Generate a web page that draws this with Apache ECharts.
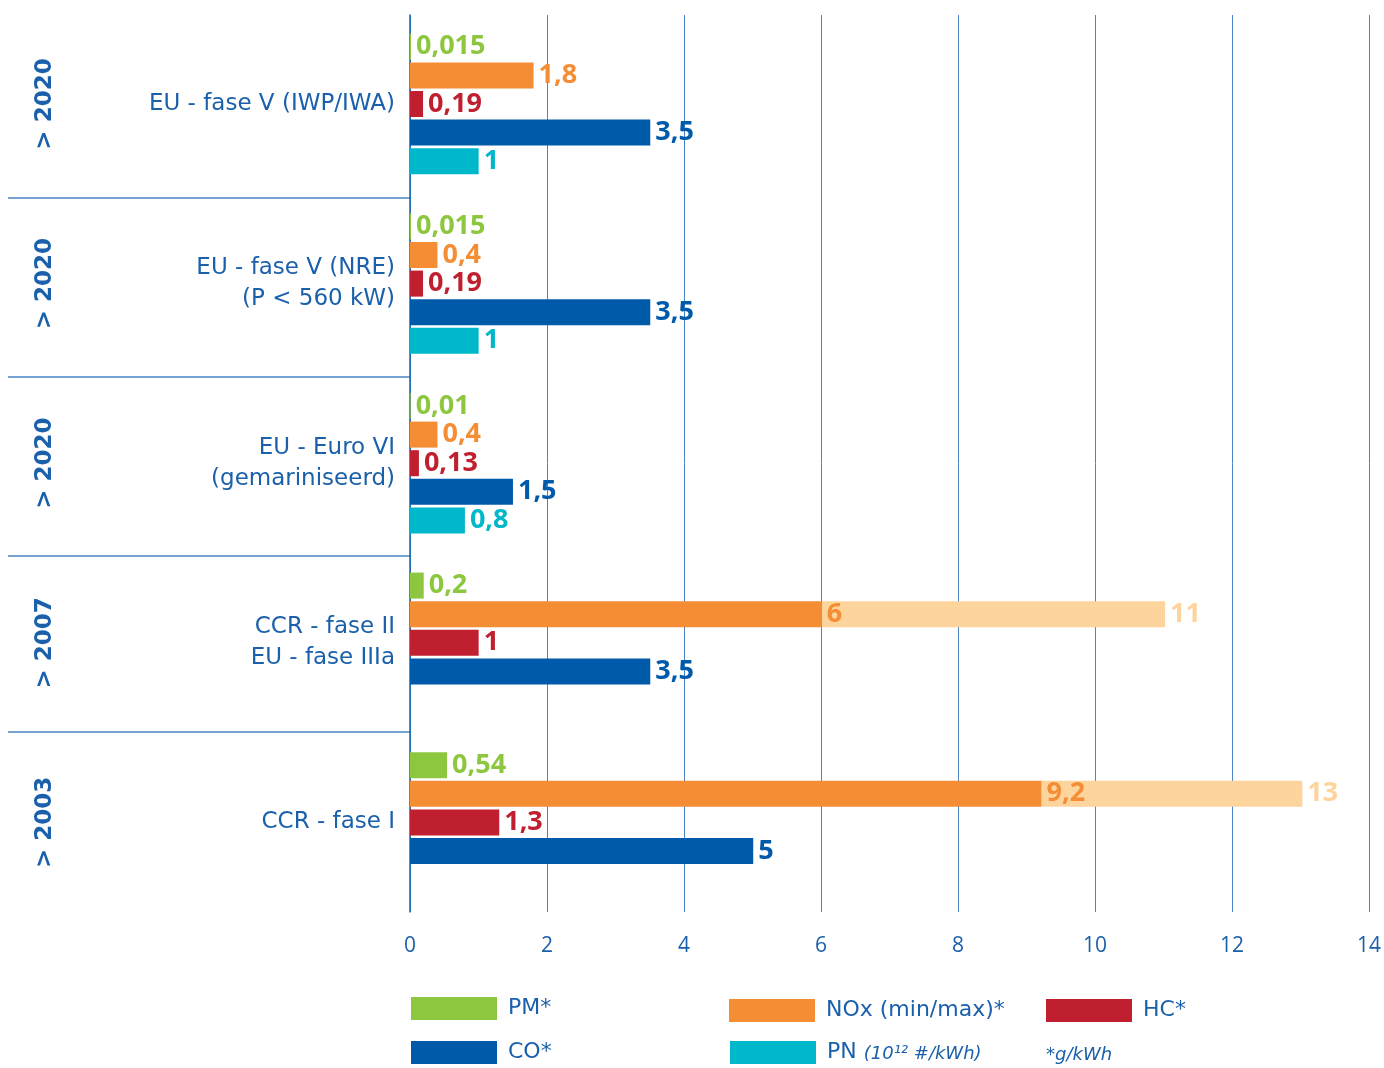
<!doctype html>
<html lang="nl">
<head>
<meta charset="utf-8">
<title>Emissienormen binnenvaart</title>
<script src="https://cdn.jsdelivr.net/npm/echarts@6/dist/echarts.min.js"></script>
<style>
  html, body { margin: 0; padding: 0; background: #fff; }
  #chart { width: 1384px; height: 1068px; }
</style>
</head>
<body>
<div id="chart"></div>
<script>
// data
var groups = ['EU - fase V (IWP/IWA)', 'EU - fase V (NRE)\n(P < 560 kW)', 'EU - Euro VI\n(gemariniseerd)', 'CCR - fase II\nEU - fase IIIa', 'CCR - fase I'];
var years = ['> 2020', '> 2020', '> 2020', '> 2007', '> 2003'];
var rows = ['PM', 'NOx', 'HC', 'CO', 'PN'];
var pm = [0.015, 0.015, 0.01, 0.2, 0.54];
var noxMin = [1.8, 0.4, 0.4, 6, 9.2];
var noxMax = [null, null, null, 11, 13];
var hc = [0.19, 0.19, 0.13, 1, 1.3];
var co = [3.5, 3.5, 1.5, 3.5, 5];
var pn = [1, 1, 0.8, null, null];
var xTicks = [0, 2, 4, 6, 8, 10, 12, 14];

var C = {
    pm: '#8dc63f', nox: '#f48d33', noxLight: '#fed49d', hc: '#c01f2f',
    co: '#005aaa', pn: '#00b8cc', text: '#1a60ab', grid: '#4a84c4'
};
var NAMES = { pm: 'PM*', nox: 'NOx (min/max)*', hc: 'HC*', co: 'CO*', pn: 'PN' };

var PLOT_LEFT = 410, PLOT_RIGHT = 13;
var GRID_TOP = 32.5, GRID_STEP = 179.6, GRID_H = 143;
var SANS = 'DejaVu Sans, sans-serif';

function fmt(v) { return String(v).replace('.', ','); }

var myChart = echarts.init(document.getElementById('chart'));

var grid = [{ left: PLOT_LEFT, right: PLOT_RIGHT, top: 15, height: 897 }];
var xAxis = [{
    gridIndex: 0, type: 'value', min: 0, max: 14, interval: 2,
    axisLine: { show: false }, axisTick: { show: false },
    splitLine: { show: true, lineStyle: { color: C.grid, width: 1 } },
    axisLabel: {
        margin: 24, color: C.text, fontFamily: 'Open Sans, sans-serif', fontSize: 21,
        formatter: function (v) { return xTicks.indexOf(v) >= 0 ? String(v) : ''; }
    }
}];
var yAxis = [{
    gridIndex: 0, type: 'value', min: 0, max: 1,
    axisLine: { show: true, lineStyle: { color: '#1f64ad', width: 1.5 } },
    axisTick: { show: false }, axisLabel: { show: false }, splitLine: { show: false }
}];
var series = [];

function rowData(g, key, vals) {
    return rows.map(function (r) { return r === key ? vals[g] : null; });
}

function barSeries(name, color, labelColor, data, gi, z, labelFmt) {
    return {
        name: name, type: 'bar', stack: 'g' + gi,
        xAxisIndex: gi, yAxisIndex: gi * 2 - 1, z: z,
        barCategoryGap: '9%',
        itemStyle: { color: color },
        label: {
            show: true, position: 'right', distance: 5,
            color: labelColor, fontFamily: 'Open Sans, sans-serif', fontWeight: 'bold', fontSize: 27,
            formatter: labelFmt
        },
        data: data
    };
}

groups.forEach(function (label, g) {
    var gi = g + 1;
    grid.push({ left: PLOT_LEFT, right: PLOT_RIGHT, top: GRID_TOP + g * GRID_STEP, height: GRID_H });
    xAxis.push({ gridIndex: gi, type: 'value', min: 0, max: 14, show: false });
    yAxis.push({
        gridIndex: gi, type: 'category', data: rows, inverse: true,
        axisLine: { show: false }, axisTick: { show: false },
        axisLabel: {
            interval: 0, margin: 15, color: C.text, fontFamily: SANS,
            fontSize: 23, lineHeight: 31, align: 'right', padding: [3, 0, 0, 0],
            formatter: function (v, i) { return i === 2 ? label : ''; }
        }
    });
    yAxis.push({
        gridIndex: gi, type: 'category', data: rows, inverse: true, position: 'left',
        axisLine: { show: false }, axisTick: { show: false },
        axisLabel: {
            interval: 0, margin: 353, rotate: 90, color: C.text,
            fontFamily: SANS, fontWeight: 'bold', fontSize: 23,
            formatter: function (v, i) { return i === 2 ? years[g] : ''; }
        }
    });
    var plain = function (p) { return fmt(p.value); };
    series.push(barSeries(NAMES.pm, C.pm, C.pm, rowData(g, 'PM', pm), gi, 3, plain));
    series.push(barSeries(NAMES.nox, C.nox, C.nox, rowData(g, 'NOx', noxMin), gi, 3, plain));
    if (noxMax[g] != null) {
        var extra = rows.map(function (r) { return r === 'NOx' ? +(noxMax[g] - noxMin[g]).toFixed(2) : null; });
        series.push(barSeries('NOx max', C.noxLight, C.noxLight, extra, gi, 2,
            function () { return fmt(noxMax[g]); }));
    }
    series.push(barSeries(NAMES.hc, C.hc, C.hc, rowData(g, 'HC', hc), gi, 3, plain));
    series.push(barSeries(NAMES.co, C.co, C.co, rowData(g, 'CO', co), gi, 3, plain));
    series.push(barSeries(NAMES.pn, C.pn, C.pn, rowData(g, 'PN', pn), gi, 3, plain));
});

function legendItem(name, left, top, formatter) {
    return {
        data: [name], left: left, top: top, padding: 0, orient: 'horizontal',
        icon: 'rect', itemWidth: 86, itemHeight: 23, selectedMode: false,
        formatter: formatter,
        textStyle: {
            color: C.text, fontFamily: SANS, fontSize: 22, padding: [0, 0, 0, 6],
            rich: {
                n: { color: C.text, fontFamily: SANS, fontSize: 22 },
                u: { color: C.text, fontFamily: SANS, fontSize: 18, fontStyle: 'italic', padding: [4, 0, 0, 0] }
            }
        }
    };
}

var legend = [
    legendItem(NAMES.pm, 411, 997),
    legendItem(NAMES.nox, 729, 999),
    legendItem(NAMES.hc, 1046, 999),
    legendItem(NAMES.co, 411, 1041),
    legendItem(NAMES.pn, 730, 1041, function () { return '{n|PN} {u|(10¹² #/kWh)}'; })
];

var sepY = [198, 377, 556, 732];
var graphic = sepY.map(function (y) {
    return { type: 'line', shape: { x1: 8, y1: y, x2: PLOT_LEFT, y2: y }, style: { stroke: C.grid, lineWidth: 1.5 } };
});
graphic.push({
    type: 'text', left: 1046, top: 1046,
    style: { text: '*g/kWh', fill: C.text, font: 'italic 18px "DejaVu Sans", sans-serif' }
});

myChart.setOption({
    animation: false,
    grid: grid,
    xAxis: xAxis,
    yAxis: yAxis,
    legend: legend,
    graphic: graphic,
    series: series
});
</script>
</body>
</html>
